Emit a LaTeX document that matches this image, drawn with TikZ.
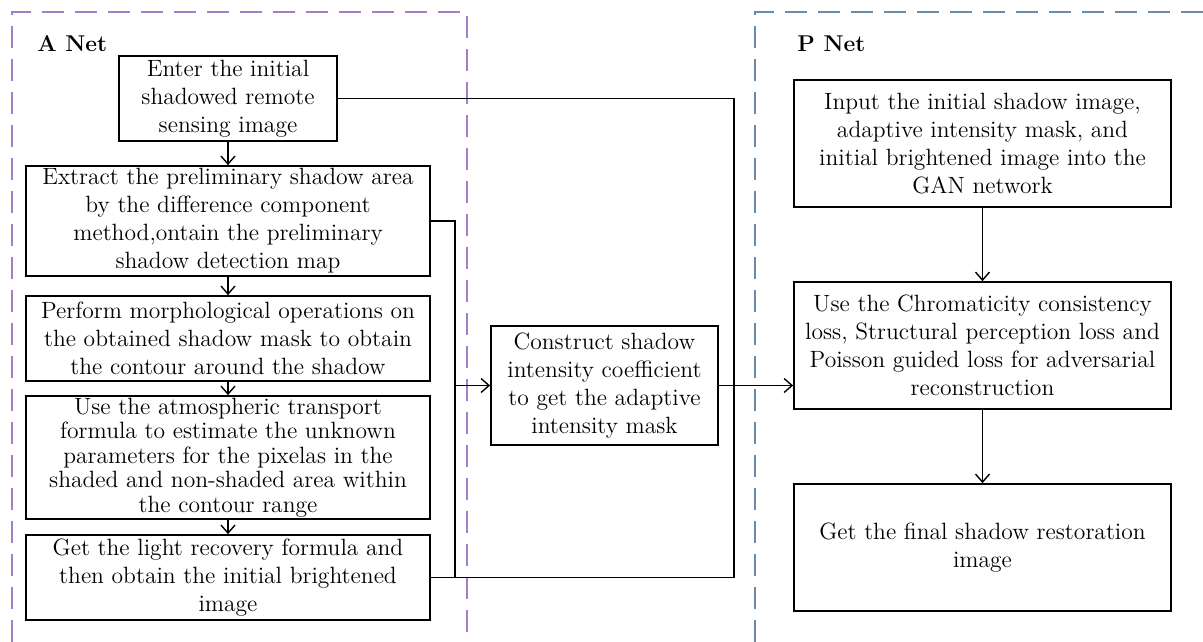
\documentclass[tikz,border=0pt]{standalone}
\usepackage{tikz}
\usetikzlibrary{positioning,arrows.meta}
\definecolor{anetcol}{RGB}{165,125,200}
\definecolor{pnetcol}{RGB}{105,138,172}
\newcommand{\boxfont}{\fontsize{13.4}{15.9}\selectfont}
\tikzset{
  line/.style={-{Straight Barb[length=1.6mm,width=2.8mm]}, line width=0.8pt},
  link/.style={line width=0.8pt},
  box/.style={draw, line width=1pt, align=center, inner sep=1pt, font=\boxfont},
  leftbox/.style={box, minimum width=80.8mm},
  netbox/.style={box, minimum width=75.4mm, minimum height=25.4mm},
  netframe/.style={dash pattern=on 4.4mm off 2.2mm, line width=1.6pt},
  nettitle/.style={font=\fontsize{13}{15}\selectfont\bfseries, anchor=west, inner sep=0pt}
}

\begin{document}
\begin{tikzpicture}[x=0.2mm, y=-0.2mm, node distance=3.65mm]
  \useasboundingbox (0,0) rectangle (1203,642);
  % frames
  \draw[netframe, anetcol] (12,642) -- (12,12) -- (467,12) -- (467,642);
  \draw[netframe, pnetcol] (755,642) -- (755,12) -- (1203,12);
  \node[nettitle] (atitle) at (37,44) {A Net};
  \node[nettitle] (ptitle) at (797,44) {P Net};

  % A Net
  \node[leftbox, minimum height=22mm] (extract) at (228,221)
    {Extract the preliminary shadow area\\by the difference component\\method,ontain the preliminary\\shadow detection map};
  \node[box, minimum width=43.6mm, minimum height=17mm, above=4.65mm of extract] (enter)
    {Enter the initial\\shadowed remote\\sensing image};
  \node[leftbox, minimum height=17mm, below=of extract] (morph)
    {Perform morphological operations on\\the obtained shadow mask to obtain\\the contour around the shadow};
  \node[leftbox, minimum height=24.6mm, below=2.65mm of morph, font=\fontsize{13.4}{13.9}\selectfont] (atmo)
    {Use the atmospheric transport\\formula to estimate the unknown\\parameters for the pixelas in the\\shaded and non-shaded area within\\the contour range};
  \node[leftbox, minimum height=17mm, below=2.85mm of atmo] (light)
    {Get the light recovery formula and\\then obtain the initial brightened\\image};
  \node[box, minimum width=45.4mm, minimum height=23.8mm] (construct) at (604.5,385.5)
    {Construct shadow\\intensity coefficient\\to get the adaptive\\intensity mask};

  % P Net
  \node[netbox] (gan) at (982.5,143.5)
    {Input the initial shadow image,\\adaptive intensity mask, and\\initial brightened image into the\\GAN network};
  \node[netbox, below=14.65mm of gan] (loss)
    {Use the Chromaticity consistency\\loss, Structural perception loss and\\Poisson guided loss for adversarial\\reconstruction};
  \node[netbox, below=14.65mm of loss] (final)
    {Get the final shadow restoration\\image};

  % connectors
  \draw[line] (enter) -- (extract);
  \draw[line] (extract) -- (morph);
  \draw[line] (morph) -- (atmo);
  \draw[line] (atmo) -- (light);
  \draw[line] (gan) -- (loss);
  \draw[line] (loss) -- (final);

  \path (light.east) ++(24,0) coordinate (split) ++(279,0) coordinate (merge);
  \draw[line] (extract.east) -- ++(24,0) |- (construct.west);
  \draw[link] (light.east) -- (merge) -- (merge |- construct.east);
  \draw[link] (split) -- (split |- construct.west);
  \draw[link] (enter.east) -| (merge |- construct.east);
  \draw[line] (construct.east) -- (construct.east -| loss.west);
\end{tikzpicture}
\end{document}
